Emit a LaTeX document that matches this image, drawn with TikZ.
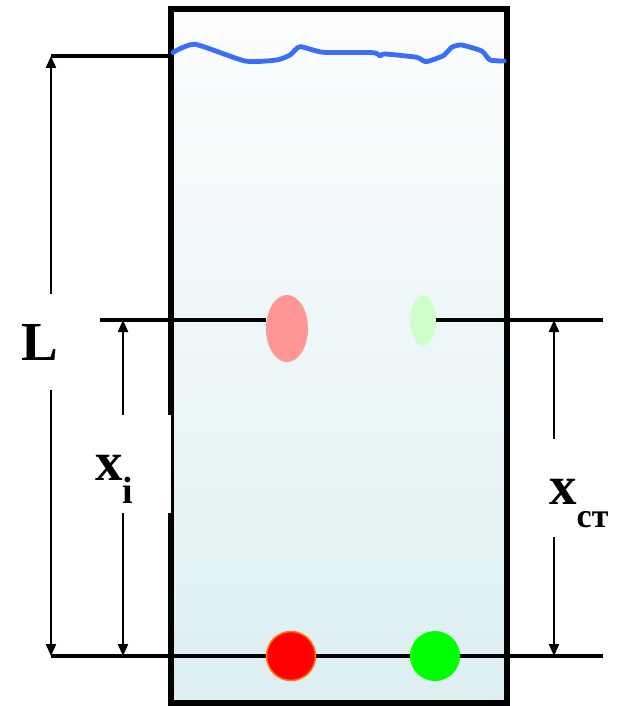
\documentclass[tikz,border=0pt]{standalone}
\usepackage{fontspec}
\setmainfont{Liberation Serif}
\usetikzlibrary{arrows.meta,shapes.geometric}

\definecolor{platetop}{RGB}{252,253,254}
\definecolor{platebot}{RGB}{221,239,241}
\definecolor{frontblue}{RGB}{58,110,250}
\definecolor{spotpink}{RGB}{255,150,150}
\definecolor{spotpale}{RGB}{204,255,204}
\definecolor{spotedge}{RGB}{255,125,0}

\newcommand{\lowsub}[2]{\raisebox{-23pt}{\fontsize{#1}{#1}\selectfont #2}}

\begin{document}
\begin{tikzpicture}[x=1pt, y=-1pt,
    plate/.style={draw=black, line width=6pt, top color=platetop, bottom color=platebot,
        minimum width=336pt, minimum height=694pt, inner sep=0pt},
    level/.style={line width=3.2pt},
    front/.style={draw=frontblue, line width=4.8pt, line join=round, line cap=round},
    spot/.style={ellipse, inner sep=0pt},
    dim/.style={{Triangle[length=12pt,width=10pt]}-{Triangle[length=12pt,width=10pt]}, line width=2.2pt},
    lbl/.style={fill=white, inner sep=0pt, font=\bfseries\fontsize{55}{55}\selectfont}
]
    \useasboundingbox (0,0) rectangle (625,706);

    % Plate
    \node[plate] (plate) at (338.6,356.3) {};

    % Solvent front
    \draw[front] plot[smooth, tension=0.35] coordinates {
        (173,52.5) (195,44.3) (245,61) (276.7,60) (290,55) (300,46.7) (323.3,52.3)
        (373.3,52.7) (380,56) (385,54) (416.7,57.3) (426,61.7) (443.3,55.7)
        (451.7,47.3) (461.7,45) (481.7,51) (490,60) (504,61)};

    % Spots after the run
    \node[spot, fill=spotpink, minimum width=42pt, minimum height=67pt] (pinkspot) at (287,328.5) {};
    \node[spot, fill=spotpale, minimum width=25.6pt, minimum height=50.6pt] (palespot) at (423,320.3) {};

    % Reference points
    \coordinate (Ltop) at (51,56);
    \coordinate (Lbot) at (51,656);
    \coordinate (midL) at (100,320);
    \coordinate (midR) at (603,320);
    \coordinate (botR) at (603,656);
    \coordinate (xitop) at (123,320);
    \coordinate (xibot) at (123,656);
    \coordinate (xcttop) at (554,320);
    \coordinate (xctbot) at (554,656);

    % Levels
    \draw[level] (Ltop) -- (Ltop -| plate.west);
    \draw[level] (midL) -- (midL -| pinkspot.west);
    \draw[level] (midR -| palespot.east) -- (midR);
    \draw[level] (Lbot) -- (botR);

    % Start spots
    \node[circle, inner sep=0pt, minimum size=49pt, fill=red, draw=spotedge, line width=1.5pt] (redspot) at (291,656) {};
    \node[circle, inner sep=0pt, minimum size=50pt, fill=green] (greenspot) at (435,656) {};

    % Dimensions
    \draw[dim] (Lbot) -- (Ltop);
    \draw[dim] (xibot) -- (xitop);
    \draw[dim] (xctbot) -- (xcttop);

    % Labels
    \node[lbl, minimum width=50pt, minimum height=96pt] (Llab) at (40,342) {L};
    \node[lbl, anchor=base west, inner xsep=10pt, text width=65.5pt, align=left,
        text height=65pt, text depth=33pt] (xilab) at (85,480) {x\lowsub{38}{i}};
    \node[lbl, anchor=base west, inner xsep=6pt, align=left,
        text height=65pt, text depth=33pt] (xctlab) at (543,504) {x\lowsub{34}{ст}};
\end{tikzpicture}
\end{document}
